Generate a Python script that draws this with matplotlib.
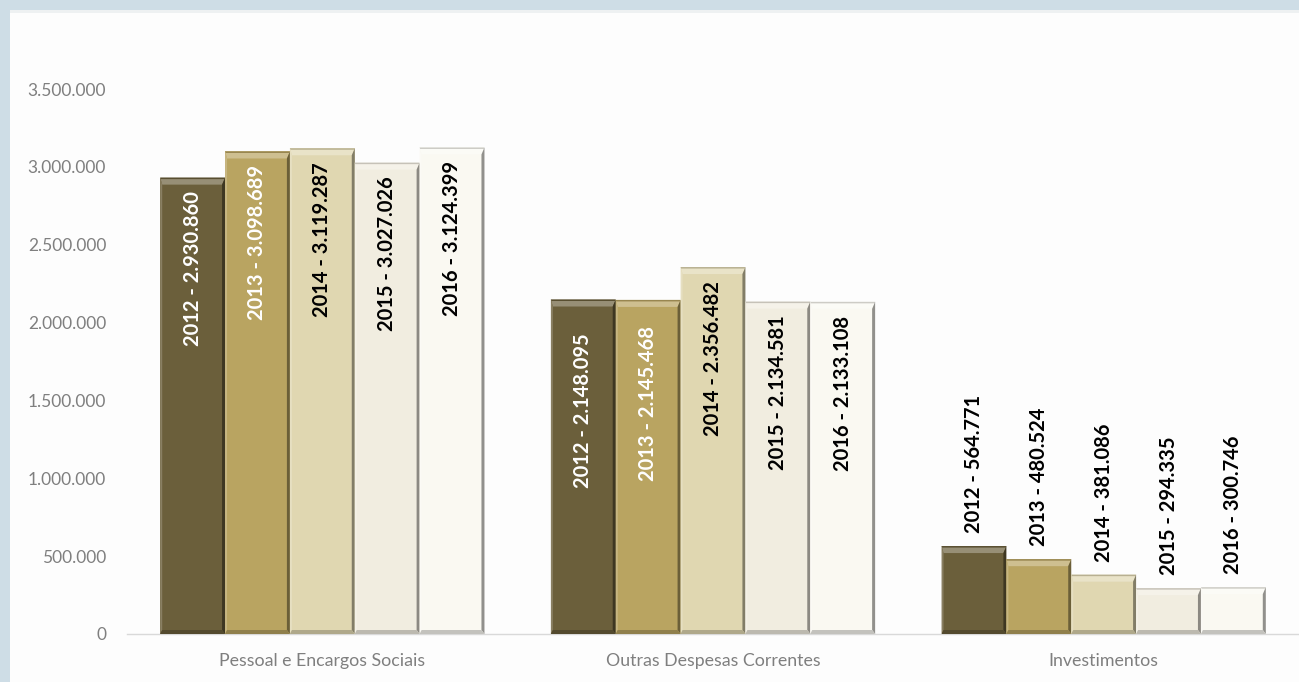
import numpy as np
import matplotlib
matplotlib.use("Agg")
import matplotlib.pyplot as plt
from matplotlib.patches import Polygon, Rectangle
from matplotlib.ticker import FuncFormatter
from matplotlib.colors import to_rgb

categories = ["Pessoal e Encargos Sociais", "Outras Despesas Correntes", "Investimentos"]
years = ["2012", "2013", "2014", "2015", "2016"]
values = {
    "2012": [2930860, 2148095, 564771],
    "2013": [3098689, 2145468, 480524],
    "2014": [3119287, 2356482, 381086],
    "2015": [3027026, 2134581, 294335],
    "2016": [3124399, 2133108, 300746],
}
yticks = [0, 500000, 1000000, 1500000, 2000000, 2500000, 3000000, 3500000]

colors = ["#6b5f3b", "#b9a461", "#e0d7b1", "#f1ede0", "#faf9f2"]
inside_text = ["white", "white", "black", "black", "black"]
# extra downward shift (pixels) for a few labels inside the bars
label_shift = {(1, 0): 20, (1, 1): 12}

W, H = 1299, 682
fig = plt.figure(figsize=(W / 100, H / 100), dpi=100)
fig.patch.set_facecolor("#cedde6")
fig.patches.append(Rectangle((10 / W, 0), 1 - 10 / W, 1 - 10 / H, transform=fig.transFigure,
                             facecolor="#fdfdfd", edgecolor="none", zorder=-10))
fig.patches.append(Rectangle((10 / W, 1 - 13 / H), 1 - 10 / W, 3 / H, transform=fig.transFigure,
                             facecolor="#eef1f2", edgecolor="none", zorder=-9))

ax = fig.add_axes([127 / W, 48 / H, (W - 127) / W, (634 - 89) / H])
ax.set_facecolor("none")
ax.set_xlim(-0.5, 2.5)
ax.set_ylim(0, 3500000)
for s in ["top", "right", "left"]:
    ax.spines[s].set_visible(False)
ax.spines["bottom"].set_color("#d9d9d9")
ax.spines["bottom"].set_linewidth(1.0)

ax.set_yticks(yticks)
ax.yaxis.set_major_formatter(FuncFormatter(lambda v, p: f"{int(v):,}".replace(",", ".")))
ax.tick_params(axis="y", length=0, pad=15, labelsize=12.5, labelcolor="#7f7f7f")
ax.set_xticks(range(len(categories)))
ax.set_xticklabels(categories)
ax.tick_params(axis="x", length=0, pad=14, labelsize=12.8, labelcolor="#7f7f7f")
for lab in ax.get_xticklabels() + ax.get_yticklabels():
    lab.set_family(["Lato", "DejaVu Sans"])

bw = 0.166
x = np.arange(len(categories))


def mix(c, other, t):
    a = np.array(to_rgb(c))
    b = np.array(to_rgb(other))
    return tuple(a * (1 - t) + b * t)


fig.canvas.draw()
to_px = ax.transData.transform

for i, yr in enumerate(years):
    xs = x + (i - 2) * bw
    bars = ax.bar(xs, values[yr], width=bw, color=colors[i], edgecolor="none", zorder=2)
    for j, rect in enumerate(bars):
        (x0, y0) = to_px((rect.get_x(), 0))
        (x1, y1) = to_px((rect.get_x() + rect.get_width(), rect.get_height()))
        c = colors[i]
        t, s, r, b = 7, 2, 3, 4
        bevels = [
            ([(x0, y1), (x1, y1), (x1 - r, y1 - t), (x0 + s, y1 - t)], mix(c, "white", 0.3)),
            ([(x0, y1), (x1, y1), (x1 - 0.5, y1 - 1.5), (x0 + 0.5, y1 - 1.5)], mix(c, "black", 0.18)),
            ([(x0, y0), (x0, y1), (x0 + s, y1 - t), (x0 + s, y0 + b)], mix(c, "white", 0.2)),
            ([(x1, y0), (x1, y1), (x1 - r, y1 - t), (x1 - r, y0 + b)], mix(c, "black", 0.42)),
            ([(x0, y0), (x1, y0), (x1 - r, y0 + b), (x0 + s, y0 + b)], mix(c, "black", 0.22)),
        ]
        for pts, col in bevels:
            ax.add_patch(Polygon(pts, closed=True, transform=None, facecolor=col,
                                 edgecolor="none", zorder=3))

        v = values[yr][j]
        label = f"{yr} - {v:,}".replace(",", ".")
        cx = (x0 + x1) / 2
        if j < 2:
            ty = y1 - 14 - label_shift.get((j, i), 0)
            ax.text(cx, ty, label, transform=None, rotation=90, ha="center", va="top",
                    fontsize=14.5, fontweight="bold", color=inside_text[i],
                    family=["Lato", "DejaVu Sans"], zorder=4)
        else:
            ax.text(cx, y1 + 13, label, transform=None, rotation=90, ha="center", va="bottom",
                    fontsize=14.5, fontweight="bold", color="black",
                    family=["Lato", "DejaVu Sans"], zorder=4)

fig.savefig("out.png", dpi=100, facecolor=fig.get_facecolor())
